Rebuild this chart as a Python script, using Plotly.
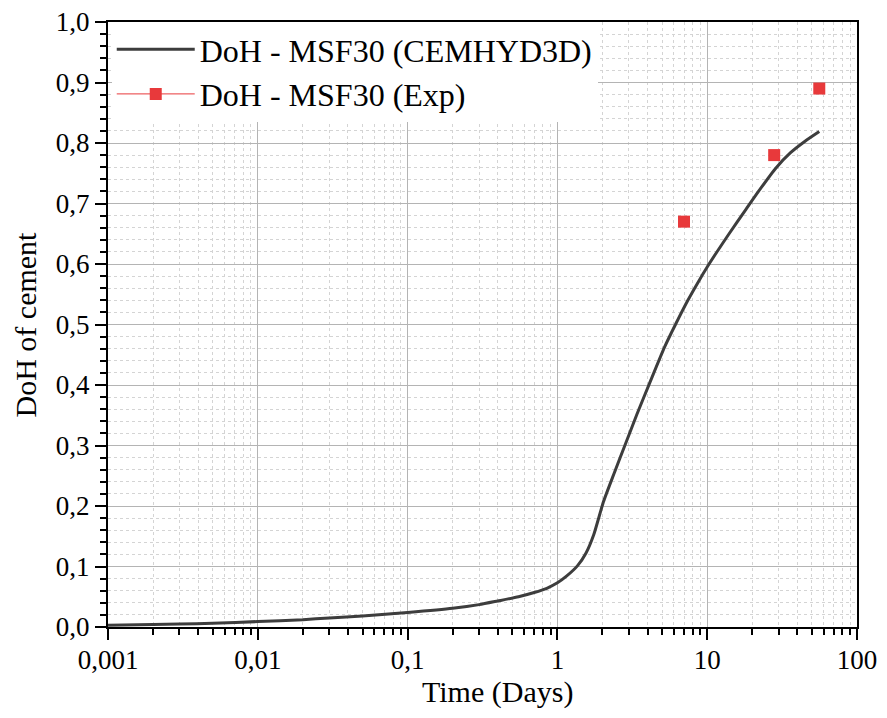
import plotly.graph_objects as go

# Simulated degree of hydration (CEMHYD3D)
sim_time = [0.001, 0.002, 0.003, 0.005, 0.01, 0.02, 0.03, 0.05, 0.1, 0.2, 0.3, 0.4, 0.55, 0.7, 0.85,
            1.0, 1.15, 1.36, 1.55, 1.75, 2.03, 2.4, 2.82, 3.4, 4.14, 5.2, 6.2, 7.43, 8.7, 10.0,
            11.4, 14.0, 18.1, 22.0, 28.6, 36.0, 45.0, 56.0]
sim_doh = [0.003, 0.004, 0.005, 0.006, 0.009, 0.012, 0.015, 0.018, 0.024, 0.031, 0.037, 0.043, 0.050, 0.057, 0.064,
           0.073, 0.084, 0.101, 0.122, 0.153, 0.207, 0.255, 0.300, 0.352, 0.404, 0.463, 0.502, 0.540, 0.570, 0.595,
           0.617, 0.650, 0.690, 0.720, 0.758, 0.784, 0.803, 0.819]

# Experimental degree of hydration
exp_time = [7, 28, 56]
exp_doh = [0.67, 0.78, 0.89]

x_tickvals = [0.001, 0.01, 0.1, 1, 10, 100]
x_ticktext = ["0,001", "0,01", "0,1", "1", "10", "100"]

x_title = "Time (Days)"
y_title = "DoH of cement"

FONT = "Liberation Serif, Times New Roman, serif"
GRID = "#b4b4b4"
MINOR_GRID = "#d4d4d4"

fig = go.Figure()
fig.add_trace(go.Scatter(
    x=sim_time, y=sim_doh, mode="lines",
    line=dict(color="#3d3d3d", width=3, shape="spline", smoothing=0.6),
    name="DoH - MSF30 (CEMHYD3D)",
))
fig.add_trace(go.Scatter(
    x=exp_time, y=exp_doh, mode="markers",
    marker=dict(symbol="square", size=12, color="#e8393b"),
    name="DoH - MSF30 (Exp)", showlegend=False, legendgroup="exp",
))
fig.add_trace(go.Scatter(
    x=[None], y=[None], mode="lines+markers",
    marker=dict(symbol="square", size=12, color="#e8393b"),
    line=dict(color="#e8393b", width=1),
    name="DoH - MSF30 (Exp)", legendgroup="exp",
))

fig.update_layout(
    width=871, height=702,
    margin=dict(l=100, r=22, t=14, b=83),
    paper_bgcolor="white", plot_bgcolor="white",
    font=dict(family=FONT, size=27, color="black"),
    separators=",.",
    legend=dict(
        x=0.005, y=1.0, xanchor="left", yanchor="top",
        bgcolor="white", borderwidth=0,
        font=dict(family=FONT, size=32, color="black"),
        tracegroupgap=0, itemwidth=78,
    ),
    xaxis=dict(
        type="log", range=[-3, 2],
        tickvals=x_tickvals, ticktext=x_ticktext,
        showline=True, linecolor="black", linewidth=2, mirror=True,
        ticks="outside", ticklen=11, tickwidth=2, tickcolor="black",
        showgrid=True, gridcolor=GRID, gridwidth=1,
        zeroline=False, automargin=False, ticklabeloverflow="allow",
        ticklabelstandoff=-3,
        tickfont=dict(family=FONT, size=27),
        minor=dict(dtick="D1", ticks="outside", ticklen=6, tickwidth=2, tickcolor="black",
                   showgrid=True, gridcolor=MINOR_GRID, griddash="dot", gridwidth=1),
    ),
    yaxis=dict(
        range=[0, 1.0], dtick=0.1, tickformat=".1f",
        showline=True, linecolor="black", linewidth=2, mirror=True,
        ticks="outside", ticklen=11, tickwidth=2, tickcolor="black",
        showgrid=True, gridcolor=GRID, gridwidth=1,
        zeroline=False, automargin=False, ticklabeloverflow="allow",
        tickfont=dict(family=FONT, size=27),
        minor=dict(dtick=0.02, ticks="outside", ticklen=6, tickwidth=2, tickcolor="black",
                   showgrid=True, gridcolor=MINOR_GRID, griddash="dot", gridwidth=1),
    ),
    annotations=[
        dict(text=x_title, xref="paper", yref="paper", x=0.52, y=-0.137,
             xanchor="center", yanchor="bottom", showarrow=False, borderpad=0,
             font=dict(family=FONT, size=30, color="black")),
        dict(text=y_title, xref="paper", yref="paper", x=-0.1095, y=0.5,
             xanchor="center", yanchor="middle", showarrow=False, textangle=-90,
             borderpad=0,
             font=dict(family=FONT, size=30, color="black")),
    ],
)

fig.write_html("out.html")
